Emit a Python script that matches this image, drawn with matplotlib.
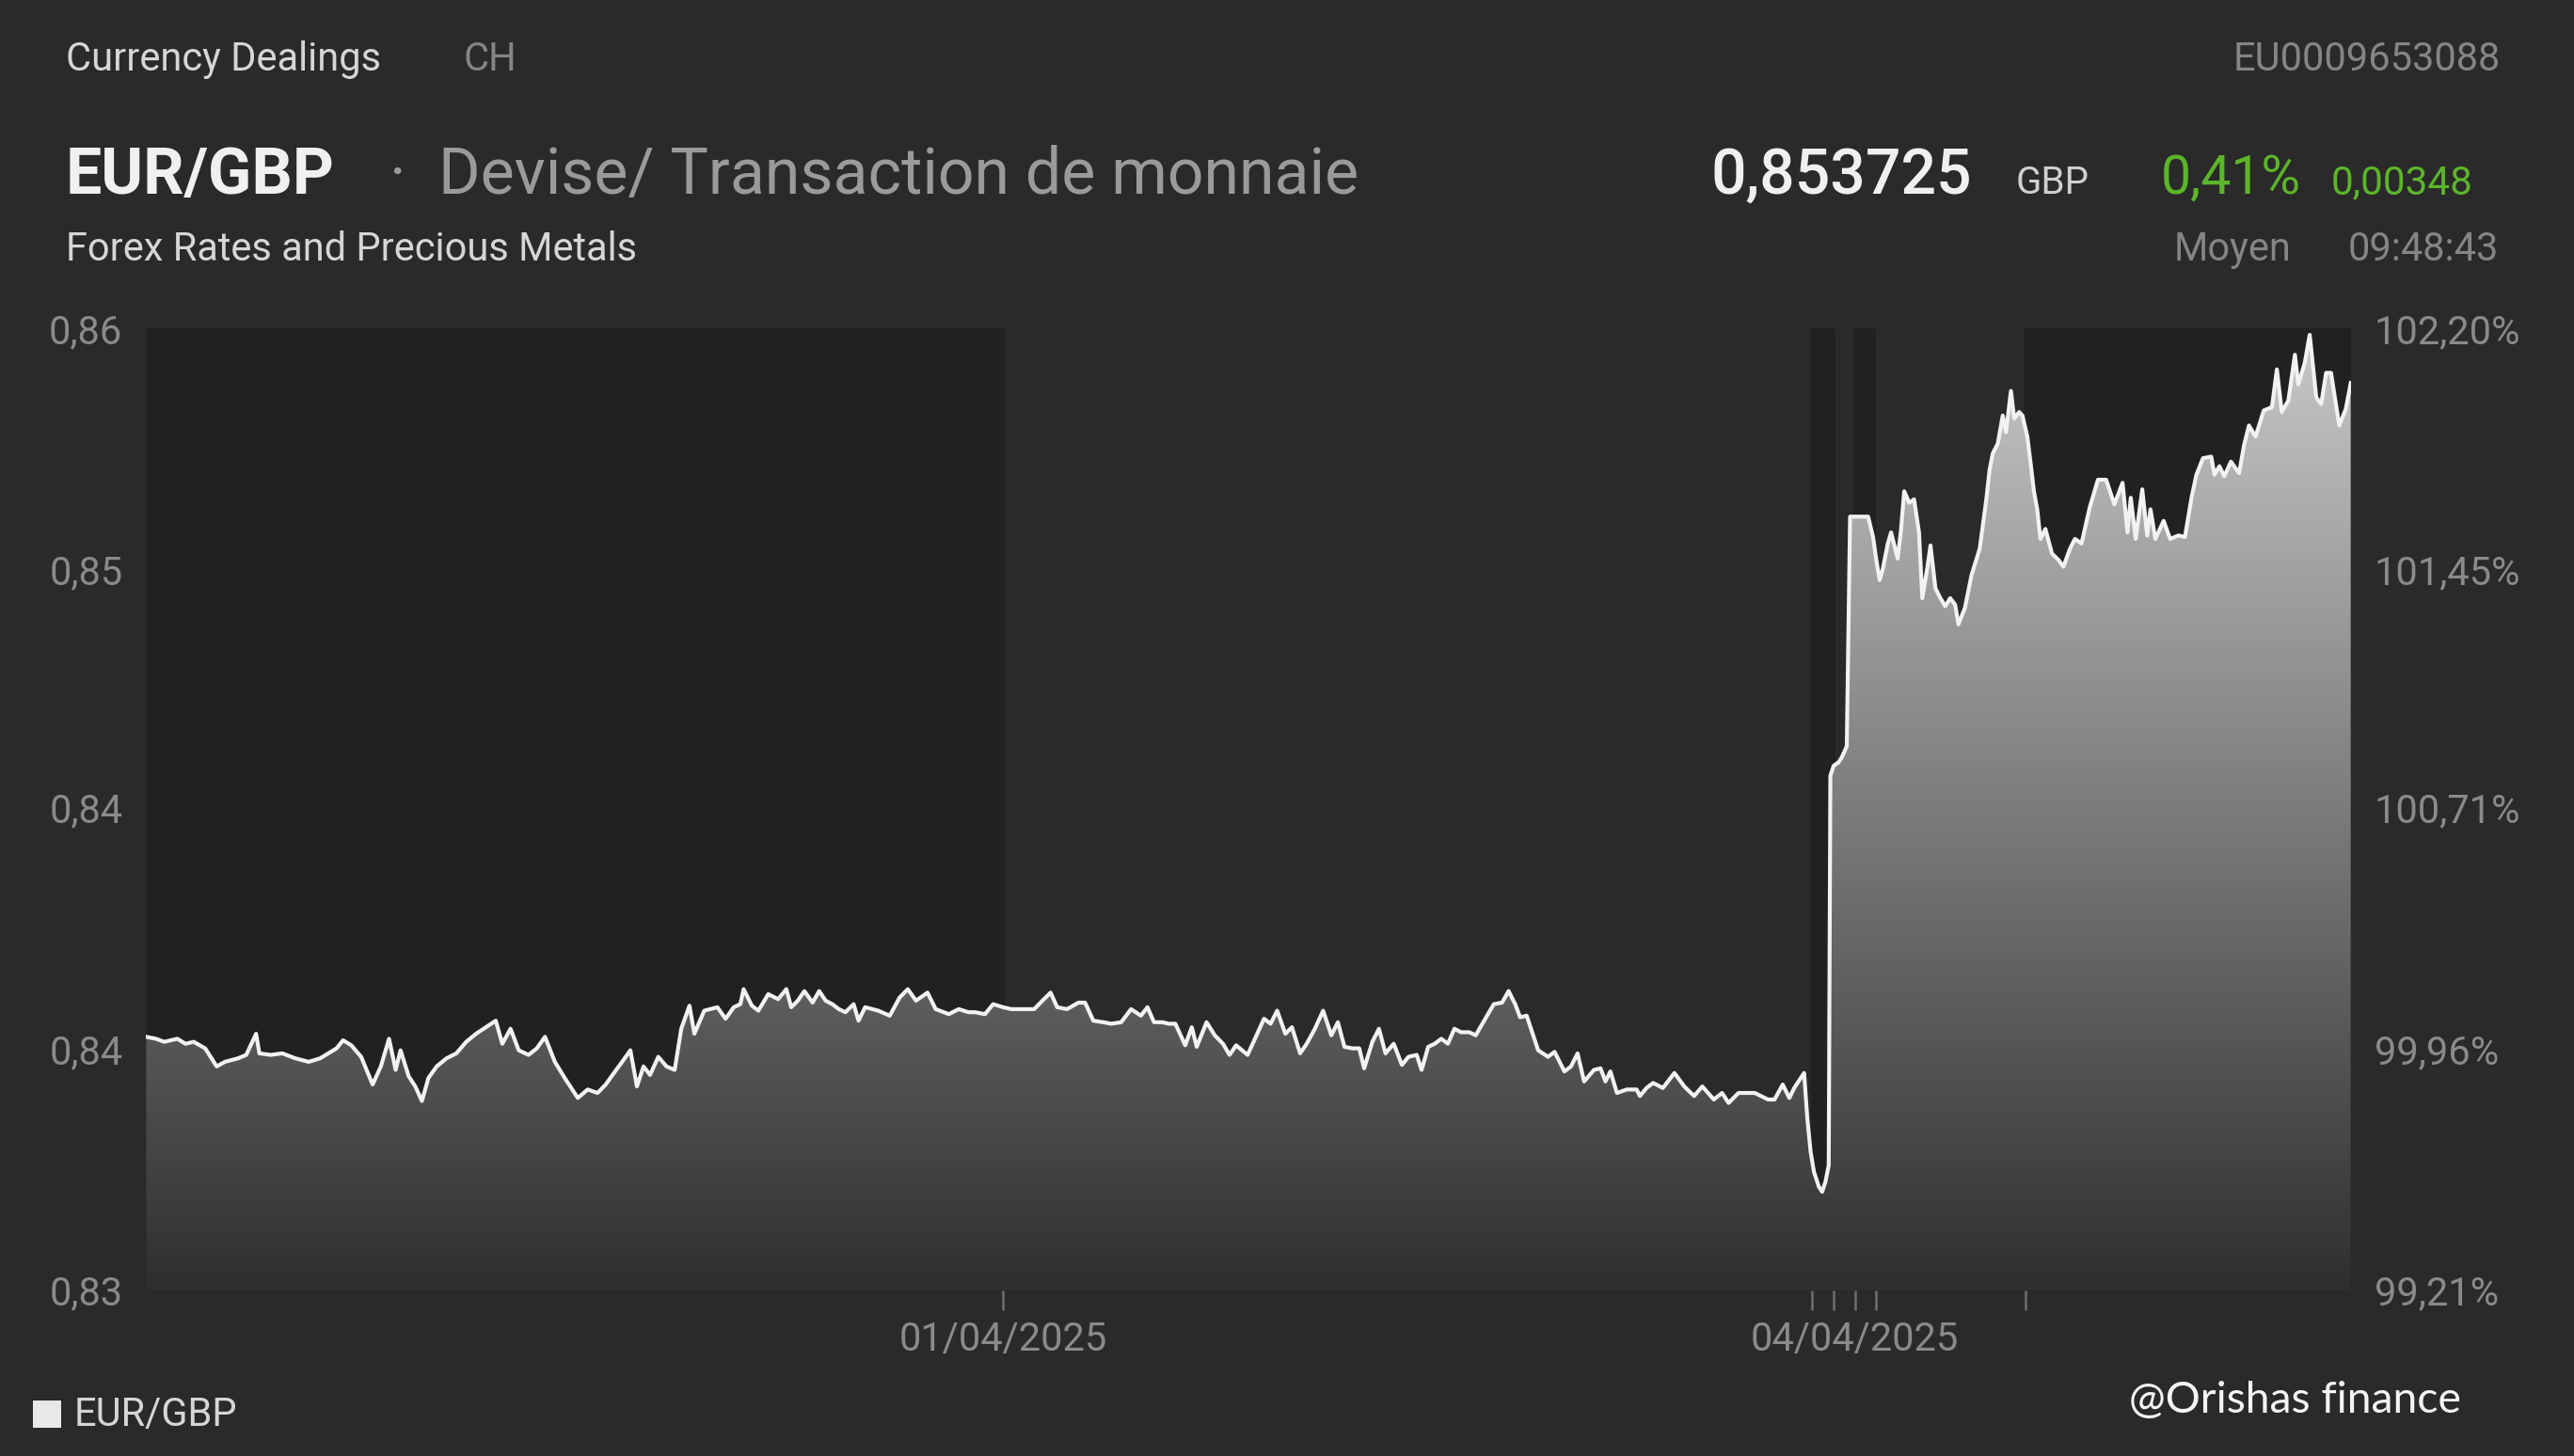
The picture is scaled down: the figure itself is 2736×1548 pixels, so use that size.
import numpy as np
import matplotlib
matplotlib.use("Agg")
import matplotlib.pyplot as plt
from matplotlib.colors import LinearSegmentedColormap
from matplotlib.patches import Rectangle

# --- data (EUR/GBP intraday) ---
t_idx = [89, 95, 100, 108, 113, 118, 125, 132, 137, 145, 150, 156, 158, 165, 172, 180, 188, 195,
         200, 205, 209, 214, 220, 227, 232, 237, 241, 244, 249, 253, 257, 261, 266, 272, 278, 284,
         290, 296, 302, 306, 311, 316, 322, 327, 332, 338, 344, 352, 358, 364, 369, 374, 379, 384,
         388, 392, 396, 401, 406, 411, 415, 420, 423, 429, 437, 442, 447, 451, 453, 458, 462, 468,
         474, 479, 482, 486, 490, 495, 499, 503, 507, 511, 515, 520, 523, 527, 535, 542, 548, 553,
         558, 565, 570, 578, 584, 590, 594, 600, 605, 611, 616, 622, 630, 635, 640, 644, 650, 657,
         661, 666, 672, 677, 683, 689, 695, 699, 703, 708, 712, 716, 722, 726, 729, 735, 740, 745,
         749, 753, 760, 765, 770, 774, 778, 783, 787, 792, 796, 801, 806, 811, 815, 819, 824, 828,
         831, 836, 840, 844, 849, 854, 858, 863, 866, 870, 874, 878, 882, 886, 890, 895, 899, 903,
         910, 915, 919, 923, 926, 930, 937, 943, 947, 953, 957, 961, 965, 971, 975, 978, 981, 985,
         991, 997, 999, 1003, 1007, 1013, 1020, 1026, 1032, 1037, 1044, 1049, 1053, 1059, 1064,
         1069, 1077, 1081, 1086, 1090, 1093, 1099, 1101, 1103, 1105, 1108, 1110, 1112, 1114, 1115,
         1117, 1120, 1122, 1125, 1127, 1132, 1138, 1141, 1143, 1145, 1147, 1150, 1152, 1156, 1158,
         1160, 1163, 1166, 1169, 1171, 1174, 1176, 1179, 1182, 1185, 1188, 1191, 1193, 1197, 1201,
         1206, 1210, 1212, 1214, 1217, 1220, 1222, 1225, 1227, 1230, 1232, 1235, 1237, 1239, 1241,
         1243, 1246, 1250, 1254, 1257, 1261, 1264, 1268, 1273, 1278, 1283, 1288, 1293, 1296, 1298,
         1301, 1305, 1308, 1310, 1313, 1318, 1322, 1327, 1331, 1335, 1338, 1342, 1347, 1349, 1352,
         1355, 1359, 1364, 1367, 1370, 1374, 1379, 1384, 1387, 1390, 1394, 1398, 1400, 1404, 1407,
         1411, 1414, 1417, 1420, 1425, 1429, 1432]

price = [0.83672, 0.83667, 0.83659, 0.83667, 0.83654, 0.83659, 0.83642, 0.83595, 0.83607, 0.83616,
         0.83625, 0.83680, 0.83629, 0.83625, 0.83629, 0.83616, 0.83607, 0.83616, 0.83629, 0.83642,
         0.83663, 0.83650, 0.83620, 0.83548, 0.83595, 0.83667, 0.83586, 0.83637, 0.83569, 0.83543,
         0.83505, 0.83565, 0.83595, 0.83616, 0.83629, 0.83659, 0.83680, 0.83697, 0.83714, 0.83654,
         0.83693, 0.83637, 0.83625, 0.83642, 0.83672, 0.83607, 0.83565, 0.83513, 0.83535, 0.83526,
         0.83548, 0.83578, 0.83607, 0.83637, 0.83543, 0.83595, 0.83573, 0.83620, 0.83595, 0.83586,
         0.83693, 0.83753, 0.83680, 0.83740, 0.83749, 0.83719, 0.83749, 0.83757, 0.83796, 0.83753,
         0.83740, 0.83783, 0.83770, 0.83796, 0.83749, 0.83766, 0.83791, 0.83761, 0.83791, 0.83766,
         0.83757, 0.83744, 0.83736, 0.83757, 0.83714, 0.83749, 0.83740, 0.83727, 0.83774, 0.83796,
         0.83766, 0.83787, 0.83744, 0.83731, 0.83744, 0.83736, 0.83736, 0.83731, 0.83757, 0.83749,
         0.83744, 0.83744, 0.83744, 0.83766, 0.83787, 0.83749, 0.83744, 0.83761, 0.83761, 0.83714,
         0.83710, 0.83706, 0.83710, 0.83744, 0.83727, 0.83749, 0.83710, 0.83710, 0.83706, 0.83706,
         0.83650, 0.83697, 0.83646, 0.83710, 0.83676, 0.83654, 0.83625, 0.83650, 0.83625, 0.83672,
         0.83719, 0.83706, 0.83740, 0.83680, 0.83697, 0.83629, 0.83654, 0.83693, 0.83740, 0.83676,
         0.83710, 0.83646, 0.83642, 0.83642, 0.83590, 0.83659, 0.83693, 0.83629, 0.83654, 0.83599,
         0.83620, 0.83625, 0.83586, 0.83646, 0.83654, 0.83667, 0.83654, 0.83693, 0.83684, 0.83684,
         0.83676, 0.83706, 0.83757, 0.83761, 0.83791, 0.83757, 0.83723, 0.83727, 0.83637, 0.83620,
         0.83633, 0.83582, 0.83595, 0.83629, 0.83556, 0.83586, 0.83590, 0.83556, 0.83582, 0.83526,
         0.83535, 0.83535, 0.83518, 0.83539, 0.83552, 0.83539, 0.83578, 0.83543, 0.83518, 0.83543,
         0.83509, 0.83526, 0.83500, 0.83526, 0.83526, 0.83526, 0.83509, 0.83509, 0.83548, 0.83513,
         0.83539, 0.83578, 0.83458, 0.83372, 0.83321, 0.83282, 0.83269, 0.83295, 0.83338, 0.84351,
         0.84377, 0.84386, 0.84399, 0.84428, 0.85025, 0.85025, 0.85025, 0.84972, 0.84912, 0.84860,
         0.84890, 0.84955, 0.84984, 0.84916, 0.84989, 0.85091, 0.85061, 0.85070, 0.84984, 0.84813,
         0.84890, 0.84950, 0.84839, 0.84813, 0.84792, 0.84813, 0.84796, 0.84745, 0.84788, 0.84873,
         0.84942, 0.85070, 0.85147, 0.85190, 0.85215, 0.85288, 0.85245, 0.85352, 0.85280, 0.85297,
         0.85288, 0.85233, 0.85164, 0.85091, 0.85044, 0.84967, 0.84993, 0.84929, 0.84912, 0.84895,
         0.84942, 0.84967, 0.84955, 0.85049, 0.85121, 0.85121, 0.85057, 0.85113, 0.84984, 0.85074,
         0.84967, 0.85096, 0.84976, 0.85044, 0.84967, 0.85014, 0.84967, 0.84976, 0.84972, 0.85074,
         0.85134, 0.85177, 0.85181, 0.85134, 0.85156, 0.85130, 0.85168, 0.85138, 0.85211, 0.85262,
         0.85233, 0.85301, 0.85310, 0.85408, 0.85297, 0.85327, 0.85446, 0.85369, 0.85425, 0.85498,
         0.85335, 0.85318, 0.85399, 0.85399, 0.85262, 0.85305, 0.853725]

base = 0.83674  # reference level of the % scale
pct_ticks = [99.21, 99.96, 100.71, 101.45, 102.20]
left_labels = ['0,83', '0,84', '0,84', '0,85', '0,86']
right_labels = ['99,21%', '99,96%', '100,71%', '101,45%', '102,20%']

x_ticks = [611, 1104, 1117, 1130, 1143, 1234]
x_labels = ['01/04/2025', '', '', '04/04/2025', '', '']
dark_bands = [(89, 612), (1103, 1118), (1129, 1143), (1233, 1432)]

# --- style ---
BG = '#2a2a2a'
DARK = '#212121'
TICK_C = '#8a8a8a'
FONT = 'Roboto'
SMALL = 15
BIG = 24.5
plt.rcParams['font.family'] = [FONT, 'DejaVu Sans']

W, H = 1568, 887  # layout grid (reference pixels)


def fx(x):
    return x / W


def fy(y):
    return 1 - y / H


fig = plt.figure(figsize=(13.68, 7.74), dpi=200, facecolor=BG)
ax = fig.add_axes([fx(89), fy(786), (1432 - 89) / W, (786 - 200) / H])
ax.set_facecolor(BG)

ylo = base * pct_ticks[0] / 100
yhi = base * pct_ticks[-1] / 100
ax.set_xlim(t_idx[0], t_idx[-1])
ax.set_ylim(ylo, yhi)

for a, b in dark_bands:
    ax.axvspan(a, b, color=DARK, zorder=0, lw=0)

# gradient area under the line
cmap = LinearSegmentedColormap.from_list('fill', ['#2f2f2f', '#c8c8c8'])
grad = np.linspace(0, 1, 256).reshape(-1, 1)
img = ax.imshow(grad, extent=[t_idx[0], t_idx[-1], ylo, yhi], origin='lower',
                aspect='auto', cmap=cmap, zorder=1, interpolation='bicubic')
poly = ax.fill_between(t_idx, price, ylo, color='none', lw=0)
img.set_clip_path(poly.get_paths()[0], transform=ax.transData)

ax.plot(t_idx, price, color='#f2f2f2', lw=1.5, zorder=3, solid_joinstyle='round')

for s in ax.spines.values():
    s.set_visible(False)

yt = [base * p / 100 for p in pct_ticks]
ax.set_yticks(yt)
ax.set_yticklabels(left_labels)
ax.tick_params(axis='y', length=0, pad=9, labelsize=SMALL, labelcolor=TICK_C)
ax.set_xticks(x_ticks)
ax.set_xticklabels(x_labels)
ax.tick_params(axis='x', length=7.5, width=0.9, color='#6e6e6e', pad=4,
               labelsize=SMALL, labelcolor=TICK_C)

ax2 = ax.twinx()
ax2.set_ylim(ylo, yhi)
ax2.set_yticks(yt)
ax2.set_yticklabels(right_labels)
ax2.tick_params(axis='y', length=0, pad=9, labelsize=SMALL, labelcolor=TICK_C)
for s in ax2.spines.values():
    s.set_visible(False)

# --- header ---
fig.text(fx(40), fy(43), 'Currency Dealings', color='#d6d6d6', fontsize=SMALL, va='baseline')
fig.text(fx(282), fy(43), 'CH', color='#858585', fontsize=SMALL, va='baseline')
fig.text(fx(1523), fy(43), 'EU0009653088', color='#858585', fontsize=SMALL,
         va='baseline', ha='right')

fig.text(fx(40), fy(118), 'EUR/GBP', color='#f0f0f0', fontsize=BIG, fontweight='bold',
         va='baseline')
fig.text(fx(237), fy(118), '·', color='#9a9a9a', fontsize=BIG, va='baseline')
fig.text(fx(267), fy(118), 'Devise/ Transaction de monnaie', color='#9a9a9a', fontsize=BIG,
         va='baseline')
fig.text(fx(40), fy(159), 'Forex Rates and Precious Metals', color='#d6d6d6', fontsize=SMALL,
         va='baseline')

fig.text(fx(1042), fy(118), '0,853725', color='#f0f0f0', fontsize=23.8, fontweight='medium',
         va='baseline')
fig.text(fx(1228), fy(118), 'GBP', color='#d0d0d0', fontsize=14.5, va='baseline')
fig.text(fx(1316), fy(118), '0,41%', color='#5cb52a', fontsize=20.5, va='baseline')
fig.text(fx(1420), fy(118), '0,00348', color='#5cb52a', fontsize=15.2, va='baseline')
fig.text(fx(1324), fy(159), 'Moyen', color='#858585', fontsize=SMALL, va='baseline')
fig.text(fx(1522), fy(159), '09:48:43', color='#858585', fontsize=SMALL, va='baseline',
         ha='right')

# --- legend + watermark ---
fig.patches.append(Rectangle((fx(20), fy(870)), 17 / W, 17 / H, transform=fig.transFigure,
                             facecolor='#e8e8e8', edgecolor='none'))
fig.text(fx(45), fy(862), 'EUR/GBP', color='#d6d6d6', fontsize=SMALL, va='center')
fig.text(fx(1297), fy(853), '@Orishas finance', color='#f5f5f5', fontsize=16.7,
         family=['Lato', 'DejaVu Sans'], va='center')

fig.savefig('out.png', dpi=200, facecolor=BG)
